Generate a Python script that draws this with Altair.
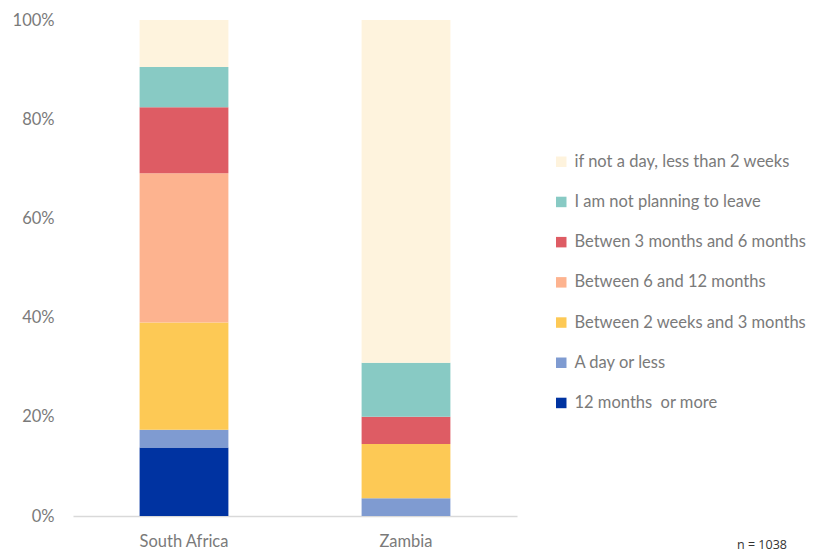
import altair as alt
import pandas as pd

countries = ["South Africa", "Zambia"]
categories = [
    "12 months\u00a0 or more",
    "A day or less",
    "Between 2 weeks and 3 months",
    "Between 6 and 12 months",
    "Betwen 3 months and 6 months",
    "I am not planning to leave",
    "if not a day, less than 2 weeks",
]
colors = ["#0033a1", "#7f9bd1", "#fdc955", "#fdb38f", "#de5c64", "#88cac4", "#fef3dd"]
south_africa = [13.8, 3.6, 21.6, 30.1, 13.3, 8.1, 9.5]
zambia = [0.0, 3.6, 10.9, 0.0, 5.5, 10.9, 69.1]
y_ticks = [0, 20, 40, 60, 80, 100]
note = "n = 1038"

rows = []
for i, c in enumerate(categories):
    rows.append({"country": countries[0], "cat": c, "order": i, "value": south_africa[i]})
    rows.append({"country": countries[1], "cat": c, "order": i, "value": zambia[i]})
df = pd.DataFrame(rows)

legend_order = categories[::-1]
legend_colors = colors[::-1]

font = "Lato"
grey = "#7a7a7a"

bars = alt.Chart(df).mark_bar().encode(
    x=alt.X("country:N", sort=countries, title=None,
            scale=alt.Scale(paddingInner=0.6, paddingOuter=0.3),
            axis=alt.Axis(labelAngle=0, labelFont=font, labelFontSize=16.5, labelColor=grey,
                          labelPadding=17, ticks=False, domainColor="#d9d9d9", domainWidth=1.5)),
    y=alt.Y("value:Q", stack="zero", title=None,
            scale=alt.Scale(domain=[0, 100], nice=False),
            axis=alt.Axis(values=y_ticks, labelExpr="datum.value + '%'", grid=False, domain=False,
                          ticks=False, labelFont=font, labelFontSize=16.5, labelColor=grey,
                          labelPadding=19)),
    color=alt.Color("cat:N", scale=alt.Scale(domain=legend_order, range=legend_colors),
                    legend=alt.Legend(title=None, orient="none", legendX=480, legendY=133.5,
                                      symbolType="square", symbolSize=110, symbolStrokeWidth=0,
                                      labelFont=font, labelFontSize=16.5, labelColor=grey,
                                      rowPadding=23.2, labelOffset=5, labelLimit=400)),
    order=alt.Order("order:Q", sort="ascending"),
)

note_df = pd.DataFrame({"t": [note]})
note_layer = alt.Chart(note_df).mark_text(font="Open Sans", fontSize=12.5, color="#333333",
                                          align="center", baseline="middle").encode(
    text="t:N", x=alt.value(689), y=alt.value(525))

chart = alt.layer(bars, note_layer).properties(
    width=444, height=496,
    autosize=alt.AutoSizeParams(type="none"),
    padding={"left": 73, "top": 20, "right": 305, "bottom": 39},
).configure_view(stroke=None)

chart.save("out.html", embed_options={"renderer": "svg", "actions": False})
